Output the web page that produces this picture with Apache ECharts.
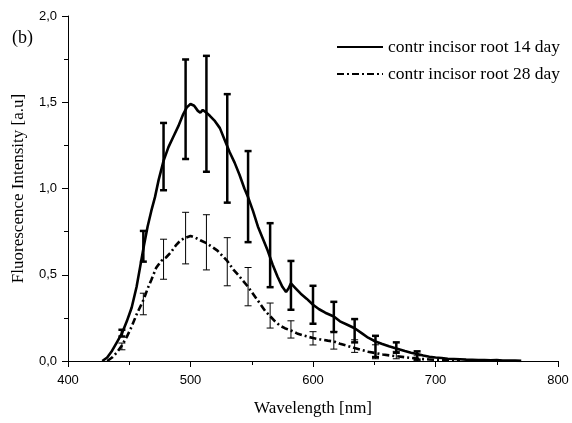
<!DOCTYPE html>
<html>
<head>
<meta charset="utf-8">
<script src="https://cdn.jsdelivr.net/npm/echarts@6/dist/echarts.min.js"></script>
<style>html,body{margin:0;padding:0;background:#fff;}#c{width:572px;height:423px;}</style>
</head>
<body>
<div id="c"></div>
<script>
// ---- data ----
const seriesNames = ['contr incisor root 14 day', 'contr incisor root 28 day'];
const xTicks = [400, 500, 600, 700, 800];
const yTicks = [0, 0.5, 1.0, 1.5, 2.0];

const wl14 = [428,432,436,440,444,448,452,456,459,462,465,468,471,474,478,482,486,490,494,497,500,503,506,508,510,513,516,520,524,528,532,536,540,544,547,551,555,559,563,567,571,575,578,580,582,586,590,595,600,605,610,617,622,628,634,640,645,651,656,662,668,675,680,685,690,695,700,705,710,715,720,725,730,735,740,745,750,755,760,765,770];
const int14 = [0.0,0.02,0.06,0.11,0.16,0.23,0.31,0.43,0.55,0.67,0.78,0.87,0.95,1.05,1.16,1.24,1.3,1.36,1.43,1.47,1.49,1.48,1.45,1.44,1.455,1.44,1.42,1.39,1.35,1.28,1.21,1.15,1.08,1.0,0.95,0.87,0.78,0.71,0.64,0.56,0.49,0.43,0.4,0.42,0.45,0.42,0.39,0.36,0.326,0.3,0.28,0.258,0.23,0.21,0.19,0.16,0.135,0.113,0.1,0.085,0.073,0.058,0.048,0.04,0.032,0.025,0.02,0.017,0.013,0.012,0.01,0.008,0.007,0.006,0.005,0.004,0.005,0.003,0.002,0.002,0.001];

const wl28 = [432,436,440,444,448,452,456,460,462,465,468,472,476,480,484,488,492,496,500,504,508,513,518,522,526,530,535,540,547,552,557,561,565,569,573,577,582,587,592,600,606,612,617,622,628,634,640,645,651,657,663,668,675,680,685,690,695,700,710,720];
const int28 = [0.0,0.02,0.05,0.09,0.14,0.2,0.27,0.33,0.36,0.42,0.47,0.54,0.58,0.6,0.63,0.67,0.7,0.715,0.725,0.715,0.7,0.683,0.66,0.64,0.61,0.58,0.53,0.49,0.43,0.38,0.33,0.29,0.26,0.23,0.205,0.19,0.177,0.16,0.148,0.133,0.125,0.118,0.113,0.1,0.088,0.075,0.063,0.054,0.046,0.038,0.032,0.028,0.022,0.018,0.014,0.011,0.009,0.007,0.005,0.003];

const errWl  = [444,461.5,478,496,513,530,547,565,582,600,617,634,651,668,685];
const err14Lo = [0.142,0.576,0.99,1.171,1.097,0.918,0.689,0.428,0.297,0.216,0.168,0.108,0.023,0.048,0.008];
const err14Hi = [0.181,0.754,1.38,1.748,1.769,1.547,1.217,0.799,0.58,0.436,0.343,0.243,0.146,0.108,0.056];
const err28Lo = [0.065,0.268,0.474,0.563,0.528,0.436,0.32,0.191,0.133,0.093,0.069,0.05,0.013,0.013,0.0];
const err28Hi = [0.104,0.393,0.706,0.862,0.848,0.715,0.542,0.336,0.233,0.17,0.171,0.123,0.094,0.056,0.03];

// ---- build ----
const zip = (a, b) => a.map((v, i) => [v, b[i]]);
const zip3 = (a, b, c) => a.map((v, i) => [v, b[i], c[i]]);

function errRender(lw, capHalf) {
  return function (params, api) {
    const x = api.value(0);
    const lo = api.coord([x, api.value(1)]);
    const hi = api.coord([x, api.value(2)]);
    const st = { stroke: '#000', lineWidth: lw };
    return {
      type: 'group',
      children: [
        { type: 'line', shape: { x1: lo[0], y1: lo[1], x2: hi[0], y2: hi[1] }, style: st },
        { type: 'line', shape: { x1: hi[0] - capHalf, y1: hi[1], x2: hi[0] + capHalf, y2: hi[1] }, style: st },
        { type: 'line', shape: { x1: lo[0] - capHalf, y1: lo[1], x2: lo[0] + capHalf, y2: lo[1] }, style: st }
      ]
    };
  };
}

const chart = echarts.init(document.getElementById('c'), null, { renderer: 'canvas' });
const axisCommon = {
  axisLine: { show: true, lineStyle: { color: '#000', width: 1 } },
  axisTick: { show: true, inside: false, length: 6, lineStyle: { color: '#000', width: 1 } },
  minorTick: { show: true, splitNumber: 2, length: 4, lineStyle: { color: '#000', width: 1 } },
  splitLine: { show: false },
  axisLabel: { color: '#000', fontFamily: 'Liberation Sans', fontSize: 13 },
  nameTextStyle: { color: '#000', fontFamily: 'Liberation Serif', fontSize: 17 },
  nameMoveOverlap: false
};

chart.setOption({
  animation: false,
  backgroundColor: '#fff',
  grid: { left: 68, right: 14, top: 16, bottom: 62, containLabel: false, outerBoundsMode: 'none' },
  xAxis: Object.assign({}, axisCommon, {
    type: 'value', min: xTicks[0], max: xTicks[xTicks.length - 1], interval: 100,
    name: 'Wavelength [nm]', nameLocation: 'middle', nameGap: 39,
    axisLabel: Object.assign({}, axisCommon.axisLabel, { margin: 13 })
  }),
  yAxis: Object.assign({}, axisCommon, {
    type: 'value', min: yTicks[0], max: yTicks[yTicks.length - 1], interval: 0.5,
    name: 'Fluorescence Intensity [a.u]', nameLocation: 'middle', nameGap: 41,
    axisLabel: Object.assign({}, axisCommon.axisLabel, { margin: 11,
      formatter: v => v.toFixed(1).replace('.', ',') })
  }),
  legend: {
    data: seriesNames,
    orient: 'vertical', left: 336, top: 38, padding: 0, itemWidth: 46, itemHeight: 14, itemGap: 9,
    itemStyle: { opacity: 0 },
    textStyle: { color: '#000', fontFamily: 'Liberation Serif', fontSize: 17.5 }
  },
  graphic: [{
    type: 'text', left: 12, top: 29,
    style: { text: '(b)', fill: '#000', font: '18px "Liberation Serif"' }
  }],
  series: [
    { name: seriesNames[0], type: 'line', data: zip(wl14, int14), symbol: 'none', smooth: false,
      lineStyle: { color: '#000', width: 2.6 }, itemStyle: { color: '#000' }, z: 3 },
    { name: seriesNames[1], type: 'line', data: zip(wl28, int28), symbol: 'none', smooth: false,
      lineStyle: { color: '#000', width: 2.6, type: [7, 3, 2, 3] }, itemStyle: { color: '#000' }, z: 3 },
    { name: 'err14', type: 'custom', data: zip3(errWl, err14Lo, err14Hi), encode: { x: 0, y: [1, 2] },
      renderItem: errRender(2.5, 3.5), z: 4 },
    { name: 'err28', type: 'custom', data: zip3(errWl, err28Lo, err28Hi), encode: { x: 0, y: [1, 2] },
      renderItem: errRender(1, 3.5), z: 4 }
  ]
});
</script>
</body>
</html>
